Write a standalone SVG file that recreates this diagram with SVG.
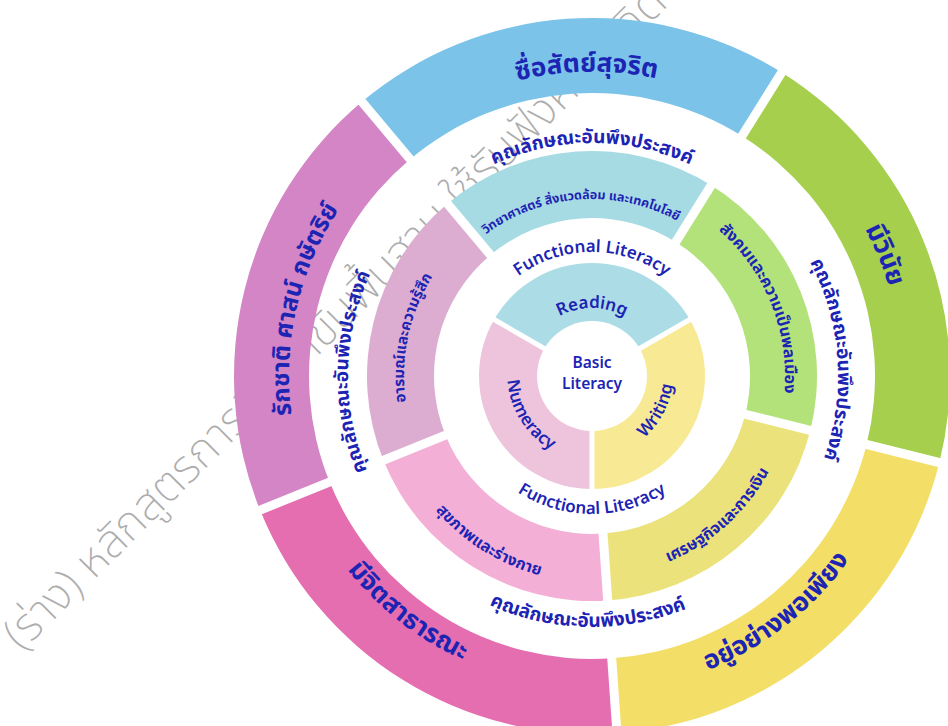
<svg xmlns="http://www.w3.org/2000/svg" width="948" height="726" viewBox="0 0 948 726">
<style>
.th{font-family:"Noto Sans Thai","Noto Sans","DejaVu Sans",sans-serif;font-weight:700;fill:#1c24b4}
.en{font-family:"Noto Sans","Inter","DejaVu Sans",sans-serif;font-weight:600;fill:#1c24b4}
.o{font-size:26px}
.w{font-size:19px}
.gap{stroke:#fff;stroke-linecap:butt;fill:none}
.wm{font-family:"Noto Sans Thai","Noto Sans","DejaVu Sans",sans-serif;font-weight:200;font-size:46px;fill:#adadad}
</style>
<defs>
<path id="pBlue" d="M 391.90 145.81 A 307 307 0 0 1 783.94 138.97"/>
<path id="pGreen" d="M 735.14 101.03 A 310 310 0 0 1 887.65 469.22"/>
<path id="pYellow" d="M 580.97 691.81 A 316 316 0 0 0 901.10 441.70"/>
<path id="pPink" d="M 286.82 440.87 A 312 312 0 0 0 602.89 687.81"/>
<path id="pPurple" d="M 322.02 513.56 A 303 303 0 0 1 409.65 134.01"/>
<path id="wTop" d="M 413.51 226.23 A 233 233 0 0 1 770.49 226.23"/>
<path id="wRight" d="M 736.60 176.98 A 246 246 0 0 1 762.89 552.96"/>
<path id="wBottom" d="M 396.94 533.96 A 251 251 0 0 0 781.43 540.67"/>
<path id="wLeft" d="M 431.92 560.15 A 244 244 0 0 1 438.45 186.38"/>
<path id="mCyan" d="M 448.80 271.96 A 177 177 0 0 1 719.32 253.05"/>
<path id="mGreen" d="M 651.64 192.45 A 193 193 0 0 1 762.41 466.61"/>
<path id="mOlive" d="M 564.03 575.04 A 201 201 0 0 0 792.88 368.99"/>
<path id="mPink" d="M 388.0 404.67 A 206 206 0 0 0 655.66 571.92"/>
<path id="mMauve" d="M 443.85 491.74 A 188 188 0 0 1 503.74 210.0"/>
<path id="iRead" d="M 528.10 352.74 A 68 68 0 0 1 655.90 352.74"/>
<path id="iWrite" d="M 580.31 459.18 A 86 86 0 0 0 654.42 319.79"/>
<path id="iNum" d="M 524.23 323.05 A 87 87 0 0 0 609.88 460.12"/>
<path id="fTop" d="M 475.48 333.59 A 124 124 0 0 1 708.52 333.59"/>
<path id="fBottom" d="M 462.32 423.20 A 138 138 0 0 0 721.68 423.20"/>
</defs>
<rect width="948" height="726" fill="#ffffff"/>
<g id="watermark">
<text class="wm" transform="translate(22,652) rotate(-45)">(ร่าง) หลักสูตรการศึกษาขั้นพื้นฐาน ใช้รับฟังความคิดเห็น</text>
</g>
<g id="outer-ring">
<g id="node-blue">
<path fill="#7cc3ea" d="M 361.88 101.76 A 358 358 0 0 1 781.71 72.40 L 741.97 136.00 A 283 283 0 0 0 410.09 159.21 Z"/>
<text class="th o"><textPath href="#pBlue" startOffset="50%" text-anchor="middle">ซื่อสัตย์สุจริต</textPath></text>
</g>
<g id="node-green">
<path fill="#a5cf4c" d="M 781.71 72.40 A 358 358 0 0 1 939.37 462.61 L 866.59 444.46 A 283 283 0 0 0 741.97 136.00 Z"/>
<text class="th o"><textPath href="#pGreen" startOffset="50%" text-anchor="middle">มีวินัย</textPath></text>
</g>
<g id="node-yellow">
<path fill="#f3df67" d="M 939.37 462.61 A 358 358 0 0 1 616.97 733.13 L 611.74 658.31 A 283 283 0 0 0 866.59 444.46 Z"/>
<text class="th o"><textPath href="#pYellow" startOffset="50%" text-anchor="middle">อยู่อย่างพอเพียง</textPath></text>
</g>
<g id="node-pink">
<path fill="#e56eb0" d="M 616.97 733.13 A 358 358 0 0 1 260.07 510.11 L 329.61 482.01 A 283 283 0 0 0 611.74 658.31 Z"/>
<text class="th o"><textPath href="#pPink" startOffset="50%" text-anchor="middle">มีจิตสาธารณะ</textPath></text>
</g>
<g id="node-purple">
<path fill="#d385c5" d="M 260.07 510.11 A 358 358 0 0 1 361.88 101.76 L 410.09 159.21 A 283 283 0 0 0 329.61 482.01 Z"/>
<text class="th" font-size="24.5"><textPath href="#pPurple" startOffset="50%" text-anchor="middle">รักชาติ ศาสน์ กษัตริย์</textPath></text>
</g>
</g>
<g id="middle-ring">
<g id="node-science">
<path fill="#a7dbe4" d="M 447.37 203.64 A 225 225 0 0 1 711.23 185.19 L 675.73 242.01 A 158 158 0 0 0 490.44 254.97 Z"/>
<text class="th" font-size="12.5"><textPath href="#mCyan" startOffset="50%" text-anchor="middle">วิทยาศาสตร์ สิ่งแวดล้อม  และเทคโนโลยี</textPath></text>
</g>
<g id="node-society">
<path fill="#b3e27b" d="M 711.23 185.19 A 225 225 0 0 1 810.32 430.43 L 745.31 414.22 A 158 158 0 0 0 675.73 242.01 Z"/>
<text class="th" font-size="16"><textPath href="#mGreen" startOffset="50%" text-anchor="middle">สังคมและความเป็นพลเมือง</textPath></text>
</g>
<g id="node-economy">
<path fill="#ebe27c" d="M 810.32 430.43 A 225 225 0 0 1 607.70 600.45 L 603.02 533.61 A 158 158 0 0 0 745.31 414.22 Z"/>
<text class="th" font-size="16"><textPath href="#mOlive" startOffset="50%" text-anchor="middle">เศรษฐกิจและการเงิน</textPath></text>
</g>
<g id="node-health">
<path fill="#f4afd6" d="M 607.70 600.45 A 225 225 0 0 1 383.38 460.29 L 445.51 435.19 A 158 158 0 0 0 603.02 533.61 Z"/>
<text class="th" font-size="16"><textPath href="#mPink" startOffset="50%" text-anchor="middle">สุขภาพและร่างกาย</textPath></text>
</g>
<g id="node-emotion">
<path fill="#dcadd1" d="M 383.38 460.29 A 225 225 0 0 1 447.37 203.64 L 490.44 254.97 A 158 158 0 0 0 445.51 435.19 Z"/>
<text class="th" font-size="15"><textPath href="#mMauve" startOffset="50%" text-anchor="middle">อารมณ์และความรู้สึก</textPath></text>
</g>
</g>
<g id="inner-ring">
<g id="node-reading">
<path fill="#acdce6" d="M 592 376 L 494.14 319.5 A 113 113 0 0 1 689.86 319.5 Z"/>
</g>
<g id="node-writing">
<path fill="#f8ea95" d="M 592 376 L 689.86 319.5 A 113 113 0 0 1 592 489 Z"/>
</g>
<g id="node-numeracy">
<path fill="#eec4dd" d="M 592 376 L 592 489 A 113 113 0 0 1 494.14 319.5 Z"/>
</g>
</g>
<g id="gaps">
<g class="gap" stroke-width="5">
<line x1="592" y1="376" x2="592" y2="492"/>
<line x1="592" y1="376" x2="491.5" y2="318"/>
<line x1="592" y1="376" x2="692.5" y2="318"/>
</g>
<g class="gap" stroke-width="9">
<line x1="737.55" y1="412.29" x2="947.13" y2="464.54"/>
<line x1="602.46" y1="525.63" x2="617.53" y2="741.11"/>
<line x1="452.92" y1="432.19" x2="252.65" y2="513.11"/>
<line x1="495.58" y1="261.09" x2="356.74" y2="95.63"/>
<line x1="671.49" y1="248.79" x2="785.95" y2="65.61"/>
</g>
</g>
<g id="node-basic">
<circle cx="592" cy="376" r="55" fill="#ffffff"/>
<text class="en" font-size="15.5" font-weight="700" text-anchor="middle" x="592" y="368">Basic</text>
<text class="en" font-size="15.5" font-weight="700" text-anchor="middle" x="592" y="389">Literacy</text>
</g>
<g id="inner-labels">
<text class="en" font-size="17"><textPath href="#iRead" startOffset="50%" text-anchor="middle">Reading</textPath></text>
<text class="en" font-size="17"><textPath href="#iWrite" startOffset="50%" text-anchor="middle">Writing</textPath></text>
<text class="en" font-size="17"><textPath href="#iNum" startOffset="50%" text-anchor="middle">Numeracy</textPath></text>
</g>
<g id="functional-literacy">
<text class="en" font-size="17"><textPath href="#fTop" startOffset="50%" text-anchor="middle">Functional Literacy</textPath></text>
<text class="en" font-size="17"><textPath href="#fBottom" startOffset="50%" text-anchor="middle">Functional Literacy</textPath></text>
</g>
<g id="desired-characteristics">
<text class="th w"><textPath href="#wTop" startOffset="50%" text-anchor="middle">คุณลักษณะอันพึงประสงค์</textPath></text>
<text class="th w"><textPath href="#wRight" startOffset="50%" text-anchor="middle">คุณลักษณะอันพึงประสงค์</textPath></text>
<text class="th w"><textPath href="#wBottom" startOffset="50%" text-anchor="middle">คุณลักษณะอันพึงประสงค์</textPath></text>
<text class="th w"><textPath href="#wLeft" startOffset="50%" text-anchor="middle">คุณลักษณะอันพึงประสงค์</textPath></text>
</g>
<g id="connectors"></g>
</svg>
